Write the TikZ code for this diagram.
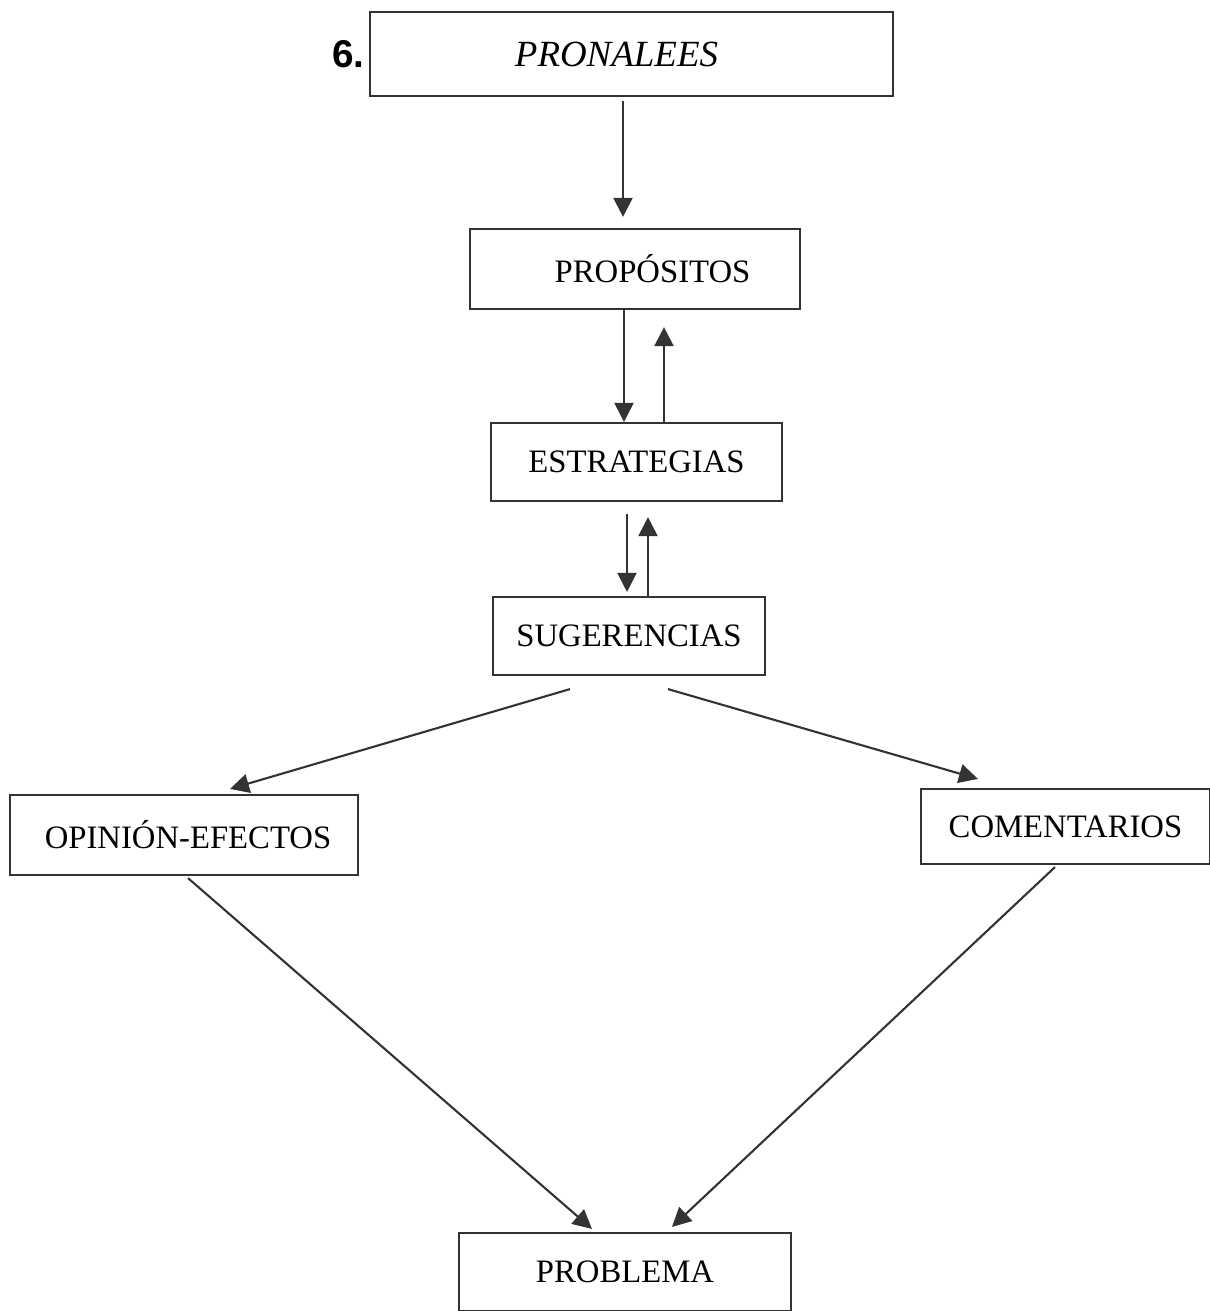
\documentclass[tikz,border=0pt]{standalone}
\usepackage{fontspec}
\setmainfont{Liberation Serif}
\newfontfamily\numfont{Liberation Sans}
\usetikzlibrary{calc,arrows.meta}

\begin{document}
\begin{tikzpicture}[x=0.01cm,y=-0.01cm,
  box/.style={draw=black!80,line width=0.6pt,inner sep=0pt,font=\fontsize{9.3}{11}\selectfont},
  arr/.style={draw=black!80,line width=0.6pt,-{Triangle[length=0.19cm,width=0.19cm]}}]
\useasboundingbox (0,0) rectangle (1210,1311);
% boxes
\node [box,minimum width=5.23cm,minimum height=0.84cm] (pron) at (631.5,54) {\fontsize{10.5}{12}\selectfont\itshape\hspace{-0.3cm}PRONALEES};
\node [left,inner sep=1pt,font=\numfont\bfseries\fontsize{11}{13}\selectfont] (num) at (pron.west) {6.};
\node [box,minimum width=3.30cm,minimum height=0.80cm] (prop) at (635,269) {\hspace{0.35cm}PROPÓSITOS};
\node [box,minimum width=2.91cm,minimum height=0.78cm] (estr) at (636.5,462) {ESTRATEGIAS};
\node [box,minimum width=2.72cm,minimum height=0.78cm] (suge) at (629,636) {SUGERENCIAS};
\node [box,minimum width=3.48cm,minimum height=0.80cm] (opin) at (184,835) {\hspace{0.08cm}OPINIÓN-EFECTOS};
\node [box,minimum width=2.89cm,minimum height=0.75cm] (come) at (1065.5,826.5) {COMENTARIOS};
\node [box,minimum width=3.32cm,minimum height=0.78cm] (prob) at (625,1272) {PROBLEMA};
% arrows
\draw [arr] ($(pron.south)+(-8.5,4)$) -- ($(prop.north)+(-12,-11)$);
\draw [arr] ($(prop.south)+(-11,0)$) -- ($(estr.north)+(-12.5,0)$);
\draw [arr] ($(estr.north)+(27.5,0)$) -- ($(prop.south)+(29,17)$);
\draw [arr] ($(estr.south)+(-9.5,12)$) -- ($(suge.north)+(-2,-4)$);
\draw [arr] ($(suge.north)+(19,0)$) -- ($(estr.south)+(11.5,15)$);
\draw [arr] ($(suge.south)+(-59,13)$) -- ($(opin.north)+(46,-5)$);
\draw [arr] ($(suge.south)+(39,13)$) -- ($(come.north)+(-87.5,-9)$);
\draw [arr] ($(opin.south)+(4,2)$) -- ($(prob.north)+(-33,-3)$);
\draw [arr] ($(come.south)+(-10.5,2)$) -- ($(prob.north)+(47,-5)$);
\end{tikzpicture}
\end{document}
